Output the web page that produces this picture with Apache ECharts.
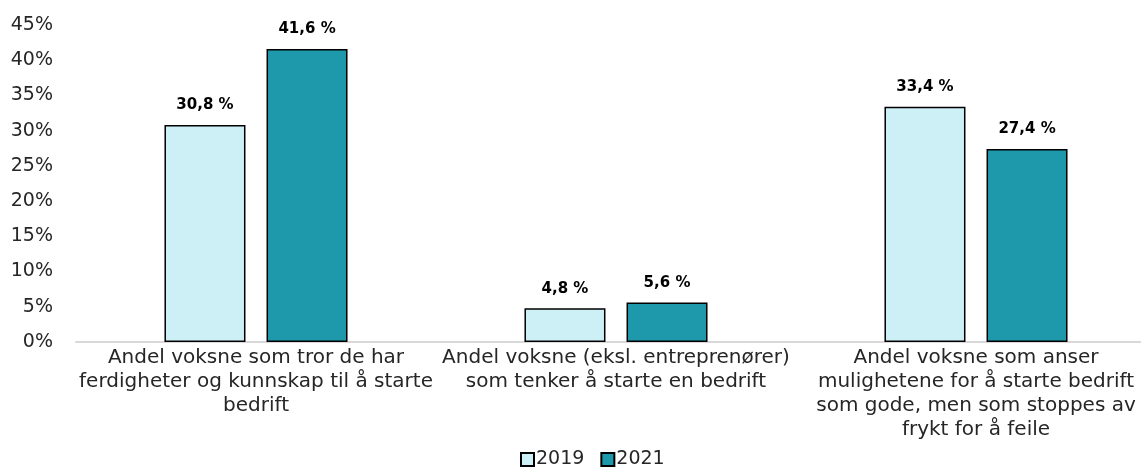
<!DOCTYPE html>
<html>
<head>
<meta charset="utf-8">
<script src="https://cdn.jsdelivr.net/npm/echarts@6/dist/echarts.min.js"></script>
<style>
  html, body { margin: 0; padding: 0; background: #fff; overflow: hidden; }
  #chart { width: 1156px; height: 469px; }
</style>
</head>
<body>
<div id="chart"></div>
<script>
const categories = [
  'Andel voksne som tror de har\nferdigheter og kunnskap til å starte\nbedrift',
  'Andel voksne (eksl. entreprenører)\nsom tenker å starte en bedrift',
  'Andel voksne som anser\nmulighetene for å starte bedrift\nsom gode, men som stoppes av\nfrykt for å feile'
];
const values2019 = [30.8, 4.8, 33.4];
const values2021 = [41.6, 5.6, 27.4];
const seriesNames = ['2019', '2021'];

const font = 'DejaVu Sans';

const chart = echarts.init(document.getElementById('chart'));

const label = {
  show: true,
  position: 'top',
  distance: 12,
  fontFamily: font,
  fontWeight: 'bold',
  fontSize: 15,
  color: '#000',
  formatter: p => p.value.toFixed(1).replace('.', ',') + ' %'
};

let option = {
  animation: false,
  textStyle: { fontFamily: font },
  grid: { left: 76, right: 0, top: 25, bottom: 127, containLabel: false },
  legend: {
    bottom: -5,
    left: 515,
    itemWidth: 13,
    itemHeight: 13,
    itemGap: 16,
    icon: 'rect',
    textStyle: { fontFamily: font, fontSize: 19, color: '#262626', padding: [0, 0, 0, -3] },
    data: seriesNames
  },
  xAxis: {
    type: 'category',
    data: categories,
    axisTick: { show: false },
    axisLine: { lineStyle: { color: '#d9d9d9', width: 2 } },
    axisLabel: {
      interval: 0,
      margin: 4,
      fontFamily: font,
      fontSize: 20,
      lineHeight: 24,
      color: '#262626',
      align: 'center'
    }
  },
  yAxis: {
    type: 'value',
    min: 0,
    max: 45,
    interval: 5,
    splitLine: { show: false },
    axisLine: { show: false },
    axisTick: { show: false },
    axisLabel: {
      margin: 23,
      padding: [3, 0, 0, 0],
      fontFamily: font,
      fontSize: 19,
      color: '#262626',
      formatter: v => v + '%'
    }
  },
  series: [
    {
      name: seriesNames[0],
      type: 'bar',
      data: values2019,
      barWidth: 81,
      barGap: '26%',
      itemStyle: { color: '#cdf0f6', borderColor: '#000', borderWidth: 1.5 },
      label: label
    },
    {
      name: seriesNames[1],
      type: 'bar',
      data: values2021,
      barWidth: 81,
      itemStyle: { color: '#1e99ac', borderColor: '#000', borderWidth: 1.5 },
      label: label
    }
  ]
};
chart.setOption(option);
</script>
</body>
</html>
